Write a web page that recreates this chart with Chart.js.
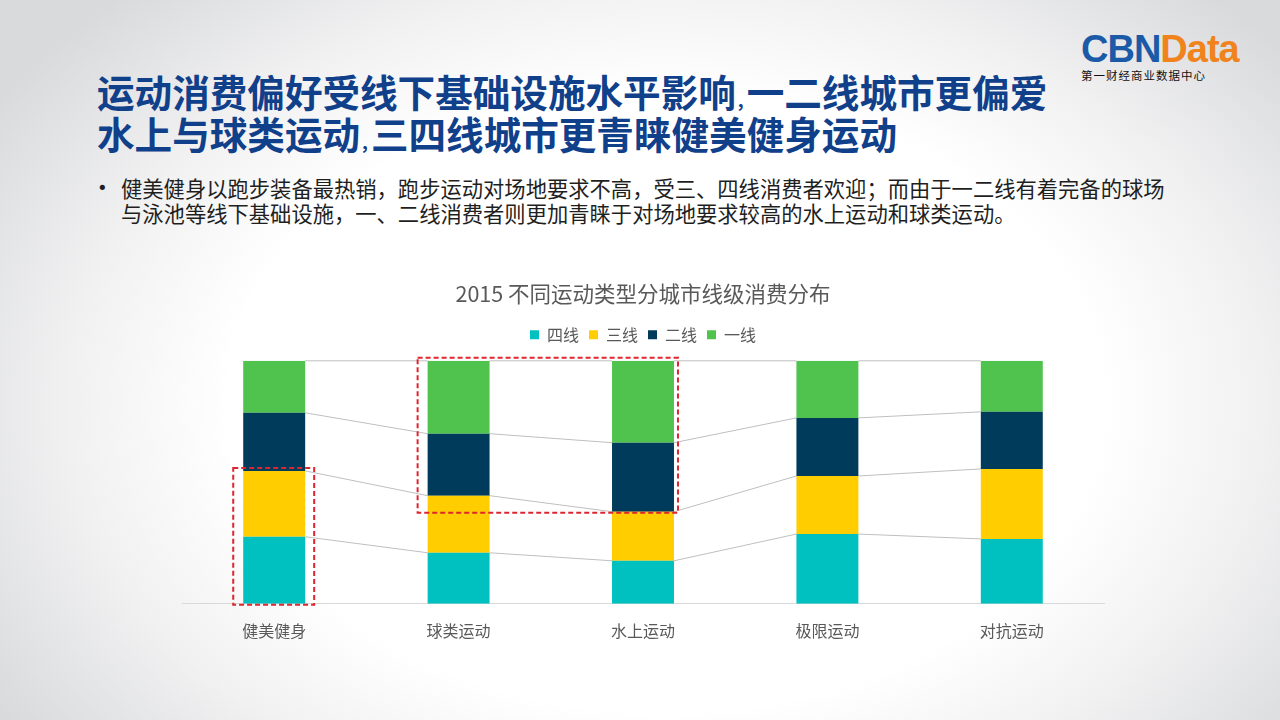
<!DOCTYPE html>
<html>
<head>
<meta charset="utf-8">
<script src="https://cdn.jsdelivr.net/npm/chart.js@4.4.1/dist/chart.umd.min.js"></script>
<style>
    html, body { margin: 0; padding: 0; }
    body {
        width: 1280px; height: 720px; position: relative; overflow: hidden;
        font-family: "Noto Sans CJK SC", "Noto Sans", sans-serif;
        background: radial-gradient(ellipse 62% 78% at 52% 56%, #ffffff 55%, #f1f1f2 75%, #d9dadc 100%);
    }
    .headline {
        position: absolute; left: 97px; top: 70px;
        font-size: 37.6px; font-weight: 700; color: #11408b;
        white-space: nowrap;
    }
    .headline div { height: 42px; line-height: 42px; }
    .headline .cm { font-size: 18px; line-height: 0; margin: 0 3px 0 2px; }
    .bullet {
        position: absolute; left: 100px; top: 175px;
        font-size: 21.3px; color: #1f1f1f; line-height: 25px; white-space: nowrap;
    }
    .bullet .dot { position: absolute; left: -3px; top: 0; font-family: "DejaVu Sans", sans-serif; font-size: 18px; }
    .bullet .txt { position: absolute; left: 21px; top: 0; }
    .logo { position: absolute; left: 1081px; top: 28px; }
    .logo .big { font-family: "Liberation Sans", Arial, sans-serif; font-weight: 700; font-size: 38px; letter-spacing: -1px; line-height: 42px; }
    .logo .cbn { color: #1b5aa7; }
    .logo .data { color: #f0831c; }
    .logo .sub { font-size: 11.5px; color: #111; margin-top: -3px; letter-spacing: 1px; }
    #wrap { position: absolute; left: 140px; top: 270px; width: 1000px; height: 391px; }
</style>
</head>
<body>
<div class="logo">
    <div class="big"><span class="cbn">CBN</span><span class="data">Data</span></div>
    <div class="sub">第一财经商业数据中心</div>
</div>
<div class="headline">
    <div>运动消费偏好受线下基础设施水平影响<span class="cm">,</span>一二线城市更偏爱</div>
    <div>水上与球类运动<span class="cm">,</span>三四线城市更青睐健美健身运动</div>
</div>
<div class="bullet">
    <span class="dot">•</span>
    <div class="txt">健美健身以跑步装备最热销，跑步运动对场地要求不高，受三、四线消费者欢迎；而由于一二线有着完备的球场<br>与泳池等线下基础设施，一、二线消费者则更加青睐于对场地要求较高的水上运动和球类运动。</div>
</div>
<div id="wrap"><canvas id="c"></canvas></div>
<script>
// categories and city-tier shares (%)
const categories = ['健美健身', '球类运动', '水上运动', '极限运动', '对抗运动'];
const tier4 = [27.6, 21.0, 17.7, 28.7, 26.7];
const tier3 = [27.1, 23.5, 20.2, 23.9, 28.8];
const tier2 = [23.9, 25.5, 28.4, 23.9, 23.5];
const tier1 = [21.4, 30.0, 33.7, 23.5, 21.0];
const chartTitle = '2015 不同运动类型分城市线级消费分布';

// red dashed highlights: [firstIdx, lastIdx, topLevel, bottomLevel]
// level = number of stacked segments counted from the bottom
const highlights = [[0, 0, 2, 0], [1, 2, 4, 2]];

const stacks = [tier4, tier3, tier2, tier1];
function cumAt(i, level) {
    let s = 0;
    for (let k = 0; k < level; k++) s += stacks[k][i];
    return s;
}

// excel style series lines between neighbouring bars
const seriesLines = {
    id: 'seriesLines',
    beforeDatasetsDraw(chart) {
        const { ctx, scales: { x, y } } = chart;
        const bars = chart.getDatasetMeta(0).data;
        ctx.save();
        ctx.strokeStyle = '#bfbfbf';
        ctx.lineWidth = 1;
        for (let level = 1; level <= 4; level++) {
            for (let i = 0; i < categories.length - 1; i++) {
                const w = bars[i].width / 2, w2 = bars[i + 1].width / 2;
                ctx.beginPath();
                ctx.moveTo(x.getPixelForValue(i) + w, y.getPixelForValue(cumAt(i, level)));
                ctx.lineTo(x.getPixelForValue(i + 1) - w2, y.getPixelForValue(cumAt(i + 1, level)));
                ctx.stroke();
            }
        }
        ctx.restore();
    }
};

const dashedBoxes = {
    id: 'dashedBoxes',
    afterDatasetsDraw(chart) {
        const { ctx, scales: { x, y } } = chart;
        const bars = chart.getDatasetMeta(0).data;
        ctx.save();
        ctx.strokeStyle = '#e0242f';
        ctx.lineWidth = 2;
        ctx.setLineDash([5, 3]);
        highlights.forEach(([a, b, top, bottom]) => {
            const l = x.getPixelForValue(a) - bars[a].width / 2 - 10;
            const r = x.getPixelForValue(b) + bars[b].width / 2 + (a === b ? 9 : 4);
            const t = y.getPixelForValue(cumAt(b, top)) - 3;
            const btm = y.getPixelForValue(cumAt(b, bottom)) + 1;
            ctx.strokeRect(l, t, r - l, btm - t);
        });
        ctx.restore();
    }
};

const legendGap = {
    id: 'legendGap',
    beforeInit(chart) {
        const fit = chart.legend.fit;
        chart.legend.fit = function () {
            fit.bind(chart.legend)();
            this.height += 8;
        };
    }
};

new Chart(document.getElementById('c'), {
    type: 'bar',
    data: {
        labels: categories,
        datasets: [
            { label: '四线', data: tier4, backgroundColor: '#00c0c0' },
            { label: '三线', data: tier3, backgroundColor: '#ffcd00' },
            { label: '二线', data: tier2, backgroundColor: '#003b5c' },
            { label: '一线', data: tier1, backgroundColor: '#50c24e' }
        ]
    },
    options: {
        responsive: true,
        maintainAspectRatio: false,
        animation: false,
        layout: { padding: { left: 42, right: 36, top: 0, bottom: 10 } },
        datasets: { bar: { barPercentage: 0.336, categoryPercentage: 1 } },
        plugins: {
            tooltip: { enabled: false },
            title: {
                display: true, text: chartTitle, color: '#595959',
                font: { family: '"Noto Sans CJK SC"', size: 21.5, weight: 'normal' },
                padding: { top: 11, bottom: 10 }
            },
            legend: {
                labels: {
                    color: '#595959', boxWidth: 9, boxHeight: 9, padding: 10,
                    font: { family: '"Noto Sans CJK SC"', size: 16 }
                }
            }
        },
        scales: {
            x: {
                stacked: true,
                grid: { display: false },
                border: { display: true, color: '#d9d9d9' },
                ticks: { color: '#595959', padding: 10, font: { family: '"Noto Sans CJK SC"', size: 16 } }
            },
            y: { stacked: true, display: false, min: 0, max: 100 }
        }
    },
    plugins: [seriesLines, dashedBoxes, legendGap]
});
</script>
</body>
</html>
